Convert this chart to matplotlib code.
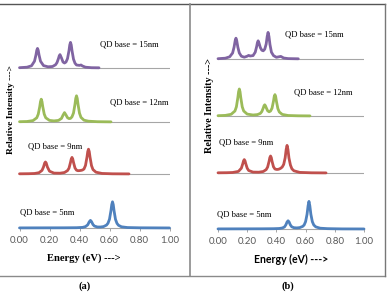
import matplotlib
matplotlib.use("Agg")
import matplotlib.pyplot as plt
from matplotlib.lines import Line2D

W, H = 387, 297

# ---- panel (a) spectra (energy in eV, intensity in arbitrary units above each baseline)
purple_a_e = [0.00, 0.05, 0.08, 0.10, 0.11, 0.115, 0.12, 0.125, 0.13, 0.14, 0.16, 0.19, 0.22, 0.24,
              0.25, 0.26, 0.265, 0.27, 0.28, 0.29, 0.30, 0.31, 0.32, 0.33, 0.335, 0.34, 0.345, 0.35,
              0.36, 0.37, 0.38, 0.40, 0.41, 0.42, 0.44, 0.48, 0.53]
purple_a_i = [0.3, 0.8, 2.2, 6.8, 13.2, 17.6, 19.6, 17.6, 13.2, 6.8, 2.4, 1.2, 1.5, 3.2,
              5.4, 9.6, 12.2, 13.4, 10.0, 6.0, 5.0, 6.0, 9.4, 17.4, 23.0, 25.6, 23.0, 17.4,
              8.8, 4.8, 3.0, 2.6, 3.0, 2.0, 0.8, 0.3, 0.2]

green_a_e = [0.00, 0.05, 0.09, 0.115, 0.125, 0.135, 0.14, 0.145, 0.15, 0.155, 0.165, 0.175, 0.20,
             0.23, 0.26, 0.28, 0.29, 0.30, 0.31, 0.32, 0.33, 0.34, 0.35, 0.36, 0.37, 0.375, 0.38,
             0.385, 0.39, 0.40, 0.41, 0.43, 0.46, 0.52, 0.61]
green_a_i = [0.3, 0.5, 1.4, 4.2, 7.8, 15.4, 20.4, 22.8, 20.4, 15.4, 7.8, 4.2, 1.6,
             1.1, 1.6, 3.6, 6.8, 9.4, 7.0, 4.3, 3.4, 3.6, 5.2, 9.0, 17.8, 23.6, 26.2,
             23.6, 17.8, 8.8, 4.6, 1.8, 0.8, 0.3, 0.15]

red_a_e = [0.00, 0.06, 0.10, 0.13, 0.15, 0.16, 0.168, 0.173, 0.178, 0.186, 0.20, 0.23, 0.27, 0.30,
           0.32, 0.33, 0.34, 0.345, 0.35, 0.355, 0.36, 0.37, 0.38, 0.39, 0.40, 0.41, 0.42, 0.43,
           0.44, 0.45, 0.455, 0.46, 0.465, 0.47, 0.48, 0.49, 0.51, 0.55, 0.62, 0.73]
red_a_i = [0.2, 0.3, 0.5, 1.3, 3.6, 7.0, 11.0, 12.0, 11.0, 7.0, 2.8, 0.9, 0.8, 1.5,
           3.4, 5.8, 11.6, 15.0, 16.6, 15.0, 11.6, 6.0, 3.8, 3.3, 3.4, 3.6, 4.0, 5.0,
           8.6, 17.0, 22.4, 24.8, 22.4, 17.0, 8.4, 4.4, 1.8, 0.55, 0.2, 0.1]

blue_a_e = [0.00, 0.30, 0.38, 0.42, 0.44, 0.455, 0.465, 0.473, 0.48, 0.49, 0.50, 0.52, 0.54, 0.56,
            0.58, 0.59, 0.60, 0.61, 0.615, 0.62, 0.625, 0.63, 0.64, 0.65, 0.66, 0.68, 0.72, 0.80, 1.00]
blue_a_i = [0.1, 0.2, 0.3, 0.6, 1.4, 3.2, 6.2, 7.6, 6.4, 3.4, 1.9, 1.0, 1.0, 1.4,
            2.9, 4.8, 8.8, 17.6, 23.4, 26.2, 23.4, 17.6, 8.6, 4.6, 2.7, 1.2, 0.45, 0.2, 0.05]

# ---- panel (b) spectra
purple_b_e = [0.00, 0.05, 0.08, 0.10, 0.11, 0.118, 0.123, 0.128, 0.136, 0.146, 0.16, 0.18, 0.20,
              0.21, 0.22, 0.24, 0.255, 0.265, 0.27, 0.275, 0.28, 0.29, 0.30, 0.31, 0.32, 0.33,
              0.337, 0.343, 0.349, 0.356, 0.366, 0.38, 0.40, 0.43, 0.45, 0.48, 0.55]
purple_b_i = [0.3, 0.8, 2.2, 6.0, 11.8, 18.6, 20.8, 18.6, 11.8, 6.0, 2.8, 1.8, 2.8,
              3.6, 3.0, 3.4, 6.8, 12.6, 16.4, 18.2, 16.4, 11.4, 8.8, 8.2, 9.8, 15.0,
              22.6, 26.6, 22.6, 14.4, 6.8, 3.4, 1.7, 2.6, 1.0, 0.4, 0.2]

green_b_e = [0.00, 0.05, 0.09, 0.116, 0.126, 0.136, 0.141, 0.146, 0.151, 0.156, 0.166, 0.176, 0.20,
             0.24, 0.27, 0.29, 0.30, 0.31, 0.315, 0.32, 0.325, 0.33, 0.34, 0.35, 0.36, 0.37, 0.38,
             0.385, 0.39, 0.395, 0.40, 0.41, 0.42, 0.44, 0.48, 0.55, 0.63]
green_b_i = [0.3, 0.6, 1.7, 5.0, 9.2, 18.4, 24.2, 27.0, 24.2, 18.4, 9.2, 5.0, 1.9,
             1.0, 1.4, 2.6, 4.4, 8.0, 10.2, 11.2, 10.2, 8.4, 5.2, 4.2, 5.0, 7.8, 14.8,
             19.4, 21.4, 19.4, 14.8, 7.4, 4.0, 1.6, 0.5, 0.2, 0.1]

red_b_e = [0.00, 0.06, 0.10, 0.14, 0.16, 0.17, 0.175, 0.18, 0.185, 0.19, 0.20, 0.21, 0.24, 0.28,
           0.31, 0.33, 0.34, 0.35, 0.355, 0.36, 0.365, 0.37, 0.38, 0.39, 0.40, 0.41, 0.42, 0.43,
           0.44, 0.45, 0.46, 0.467, 0.473, 0.479, 0.486, 0.496, 0.506, 0.52, 0.56, 0.64, 0.74]
red_b_i = [0.2, 0.3, 0.5, 1.6, 4.8, 9.4, 12.2, 13.4, 12.2, 9.4, 4.8, 2.5, 0.9, 0.8,
           1.5, 3.4, 6.0, 11.8, 15.4, 17.0, 15.4, 11.8, 6.2, 4.0, 3.6, 3.6, 4.0, 4.8,
           6.0, 8.6, 15.2, 23.6, 27.6, 23.6, 15.0, 8.0, 4.2, 2.2, 0.6, 0.2, 0.1]

blue_b_e = [0.00, 0.30, 0.38, 0.42, 0.44, 0.455, 0.465, 0.473, 0.48, 0.487, 0.495, 0.505, 0.52,
            0.54, 0.56, 0.58, 0.59, 0.60, 0.61, 0.617, 0.623, 0.629, 0.636, 0.646, 0.656, 0.67,
            0.70, 0.75, 0.85, 1.00]
blue_b_i = [0.1, 0.2, 0.3, 0.5, 1.0, 2.0, 4.2, 7.0, 8.2, 7.0, 4.2, 2.2, 1.3,
            1.1, 1.4, 2.6, 4.0, 7.4, 14.8, 23.2, 27.6, 23.2, 14.8, 7.4, 4.0, 2.1,
            0.8, 0.35, 0.1, 0.05]

offsets_a = [0, 54, 106, 160]
offsets_b = [0, 56, 113, 170]
qd_labels = ["QD base = 5nm", "QD base = 9nm", "QD base = 12nm", "QD base = 15nm"]
colors = ["#4F81BD", "#C0504D", "#9BBB59", "#8064A2"]
xticks = [0.0, 0.2, 0.4, 0.6, 0.8, 1.0]

SERIF = "Liberation Serif"
SANS = "Lato"


def px_axes(fig, x0, x1, y0, y1):
    # box given in image pixels (origin top-left)
    return fig.add_axes([x0 / W, 1 - y1 / H, (x1 - x0) / W, (y1 - y0) / H])


def ftext(fig, x, y, s, **kw):
    fig.text(x / W, 1 - y / H, s, **kw)


def fline(fig, x0, y0, x1, y1, color, lw=1.0):
    fig.add_artist(Line2D([x0 / W, x1 / W], [1 - y0 / H, 1 - y1 / H],
                          transform=fig.transFigure, color=color, lw=lw))


def draw_panel(ax, curves, offsets, label_pos, ytop):
    ax.set_xlim(0, 1)
    ax.set_ylim(0, ytop)
    for off in offsets[1:]:
        ax.axhline(off, color="#a6a6a6", lw=0.8, zorder=1)
    for (e, i), off, c in zip(curves, offsets, colors):
        ax.plot(e, [v + off for v in i], color=c, lw=2.0, solid_joinstyle="round",
                solid_capstyle="round", clip_on=False, zorder=3)
    for (lx, ly), s in zip(label_pos, qd_labels):
        ax.text(lx, ly, s, fontsize=6.2, family=SERIF, va="center", ha="left")
    for sp in ["top", "right", "left"]:
        ax.spines[sp].set_visible(False)
    ax.spines["bottom"].set_color("#a6a6a6")
    ax.spines["bottom"].set_linewidth(0.8)
    ax.set_yticks([])
    ax.set_xticks(xticks)
    ax.set_xticklabels(["%.2f" % t for t in xticks], fontsize=7, color="#595959", family=SANS)
    ax.tick_params(axis="x", direction="out", length=2.5, width=0.7, color="#a6a6a6", pad=3.0)
    ax.patch.set_alpha(0)


fig = plt.figure(figsize=(W / 100, H / 100), dpi=100)

ax_a = px_axes(fig, 19.5, 169.5, 33, 228)
draw_panel(ax_a,
           [(blue_a_e, blue_a_i), (red_a_e, red_a_i), (green_a_e, green_a_i), (purple_a_e, purple_a_i)],
           offsets_a, [(0.003, 16), (0.057, 81), (0.6, 126), (0.54, 183)], 195)

ax_b = px_axes(fig, 218, 364, 29, 229)
draw_panel(ax_b,
           [(blue_b_e, blue_b_i), (red_b_e, red_b_i), (green_b_e, green_b_i), (purple_b_e, purple_b_i)],
           offsets_b, [(-0.007, 15), (0.007, 86), (0.52, 137), (0.46, 194)], 200)

# axis titles
ftext(fig, 84, 258, "Energy (eV) --->", fontsize=7.6, family=SERIF, weight="bold", ha="center", va="center")
ftext(fig, 291, 259, "Energy (eV) --->", fontsize=7.6, family=SANS, weight="bold", ha="center", va="center")
ftext(fig, 11, 109, "Relative Intensity --->", fontsize=6.8, family=SERIF, weight="bold",
      rotation=90, ha="center", va="center")
ftext(fig, 210, 105, "Relative Intensity --->", fontsize=7.3, family=SERIF, weight="bold",
      rotation=90, ha="center", va="center")
ftext(fig, 85, 286, "(a)", fontsize=7.5, family=SERIF, weight="bold", ha="center", va="center")
ftext(fig, 288, 286, "(b)", fontsize=7.5, family=SERIF, weight="bold", ha="center", va="center")

# frames around the two panels
fline(fig, 0, 4, 385, 4, "#555555", 1.0)
fline(fig, 190, 4, 190, 276, "#8a8a8a", 1.2)
fline(fig, 0, 275.5, 385, 275.5, "#8a8a8a", 1.0)
fline(fig, 385, 4, 385, 276, "#777777", 1.0)

fig.savefig("out.png", dpi=100)
